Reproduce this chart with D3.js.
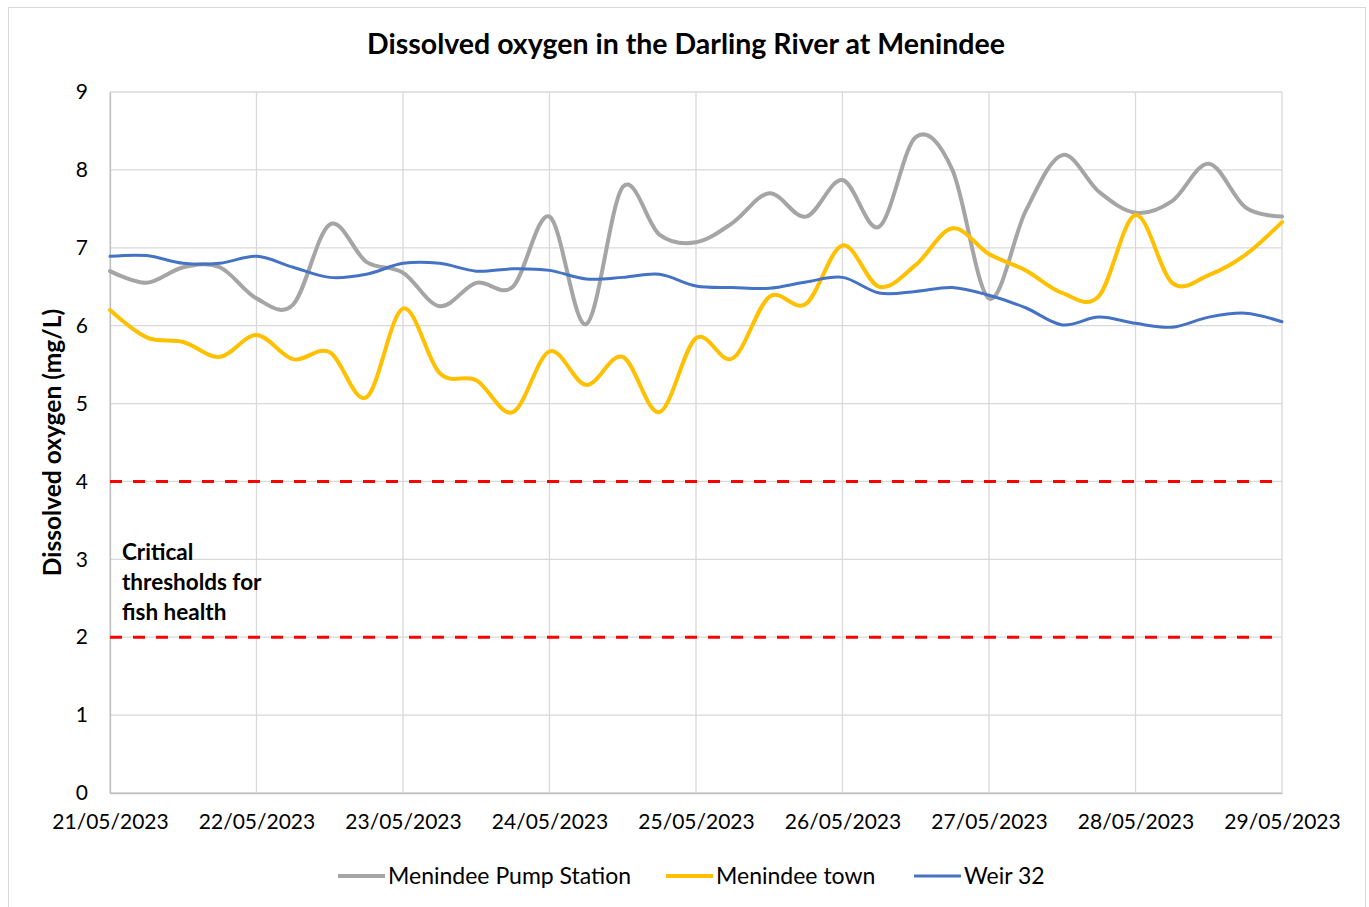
<!DOCTYPE html>
<html>
<head>
<meta charset="utf-8">
<script src="https://cdn.jsdelivr.net/npm/d3@7"></script>
<style>
  html, body { margin: 0; padding: 0; background: #fff; }
  svg { display: block; font-family: Lato, "Open Sans", sans-serif; }
</style>
</head>
<body>
<svg id="chart" width="1369" height="907"></svg>
<script>
// ---- data ----
const dateLabels = ["21/05/2023","22/05/2023","23/05/2023","24/05/2023","25/05/2023","26/05/2023","27/05/2023","28/05/2023","29/05/2023"];
const yTicks = [0,1,2,3,4,5,6,7,8,9];
const thresholds = [4, 2];
const seriesNames = ["Menindee Pump Station", "Menindee town", "Weir 32"];
// readings every 6 hours (index 0 = 21/05/2023 00:00)
const pumpStation = [6.70,6.55,6.75,6.75,6.35,6.27,7.30,6.82,6.68,6.25,6.55,6.50,7.40,6.02,7.78,7.17,7.07,
                     7.32,7.70,7.40,7.87,7.27,8.42,8.00,6.35,7.47,8.19,7.72,7.45,7.60,8.08,7.52,7.40];
const menindeeTown = [6.20,5.85,5.79,5.60,5.88,5.57,5.66,5.08,6.22,5.39,5.30,4.89,5.67,5.24,5.60,4.89,5.84,
                      5.58,6.37,6.28,7.03,6.50,6.78,7.25,6.92,6.71,6.42,6.38,7.42,6.55,6.65,6.91,7.33];
const weir32 = [6.89,6.90,6.80,6.80,6.89,6.75,6.62,6.66,6.80,6.80,6.70,6.73,6.71,6.60,6.62,6.66,6.51,
                6.49,6.48,6.56,6.62,6.42,6.44,6.49,6.39,6.23,6.01,6.11,6.03,5.98,6.11,6.16,6.05];
const colors = ["#A5A5A5", "#FFC000", "#4472C4"];
const widths = [4, 4, 3];

// ---- layout ----
const svg = d3.select("#chart");
const L = 110, R = 1282, T = 92, B = 793;

svg.append("rect").attr("x", 8.5).attr("y", 7.5).attr("width", 1357).attr("height", 910)
   .attr("fill", "#fff").attr("stroke", "#d9d9d9").attr("stroke-width", 1);

const x = d3.scaleLinear().domain([0, 32]).range([L, R]);   // 6-hour steps
const y = d3.scaleLinear().domain([0, 9]).range([B, T]);

// grid
svg.append("g").selectAll("line").data(yTicks).join("line")
  .attr("x1", L).attr("x2", R).attr("y1", d => y(d)).attr("y2", d => y(d))
  .attr("stroke", "#d9d9d9").attr("stroke-width", 1.3);
svg.append("g").selectAll("line").data(dateLabels).join("line")
  .attr("x1", (d, i) => x(i * 4)).attr("x2", (d, i) => x(i * 4))
  .attr("y1", T).attr("y2", B)
  .attr("stroke", "#d9d9d9").attr("stroke-width", 1.3);

// axes
const yAxis = d3.axisLeft(y).tickValues(yTicks).tickSize(0).tickPadding(22).tickFormat(d3.format("d"));
const gy = svg.append("g").attr("transform", `translate(${L},0)`).call(yAxis);
gy.select(".domain").attr("stroke", "#bfbfbf").attr("stroke-width", 1.3);
gy.selectAll("text").attr("font-size", 21).attr("fill", "#000").attr("font-family", "Lato");

const xb = d3.scaleLinear().domain([0, 8]).range([L, R]);
const xAxis = d3.axisBottom(xb).ticks(8).tickSize(0).tickPadding(21).tickFormat((d, i) => dateLabels[i]);
const gx = svg.append("g").attr("transform", `translate(0,${B})`).call(xAxis);
gx.select(".domain").attr("stroke", "#bfbfbf").attr("stroke-width", 1.3);
gx.selectAll("text").attr("font-size", 21).attr("fill", "#000").attr("font-family", "Lato");

// thresholds
svg.append("g").selectAll("line").data(thresholds).join("line")
  .attr("x1", L).attr("x2", R).attr("y1", d => y(d)).attr("y2", d => y(d))
  .attr("stroke", "#FF0000").attr("stroke-width", 3).attr("stroke-dasharray", "12,11");

// series
const line = d3.line().x((d, i) => x(i)).y(d => y(d)).curve(d3.curveCatmullRom.alpha(0));
[pumpStation, menindeeTown, weir32].forEach((s, k) => {
  svg.append("path").datum(s).attr("d", line).attr("fill", "none")
    .attr("stroke", colors[k]).attr("stroke-width", widths[k])
    .attr("stroke-linejoin", "round").attr("stroke-linecap", "round");
});

// title
svg.append("text").attr("x", 686).attr("y", 54).attr("text-anchor", "middle")
  .attr("font-size", 28.5).attr("font-weight", "bold").text("Dissolved oxygen in the Darling River at Menindee");

// y title
svg.append("text").attr("transform", `translate(61,${(T + B) / 2}) rotate(-90)`)
  .attr("text-anchor", "middle").attr("font-size", 24.5).attr("font-weight", "bold")
  .text("Dissolved oxygen (mg/L)");

// annotation
const ann = svg.append("text").attr("x", 122).attr("y", 560).attr("font-size", 22.5).attr("font-weight", "bold");
["Critical", "thresholds for", "fish health"].forEach((t, i) => {
  ann.append("tspan").attr("x", 122).attr("y", 560 + i * 30).text(t);
});

// legend
const legX = [338, 666, 914];
const lg = svg.append("g");
seriesNames.forEach((n, k) => {
  lg.append("line").attr("x1", legX[k]).attr("x2", legX[k] + 47).attr("y1", 876).attr("y2", 876)
    .attr("stroke", colors[k]).attr("stroke-width", widths[k]);
  lg.append("text").attr("x", legX[k] + 50).attr("y", 884).attr("font-size", 23).text(n);
});
</script>
</body>
</html>
